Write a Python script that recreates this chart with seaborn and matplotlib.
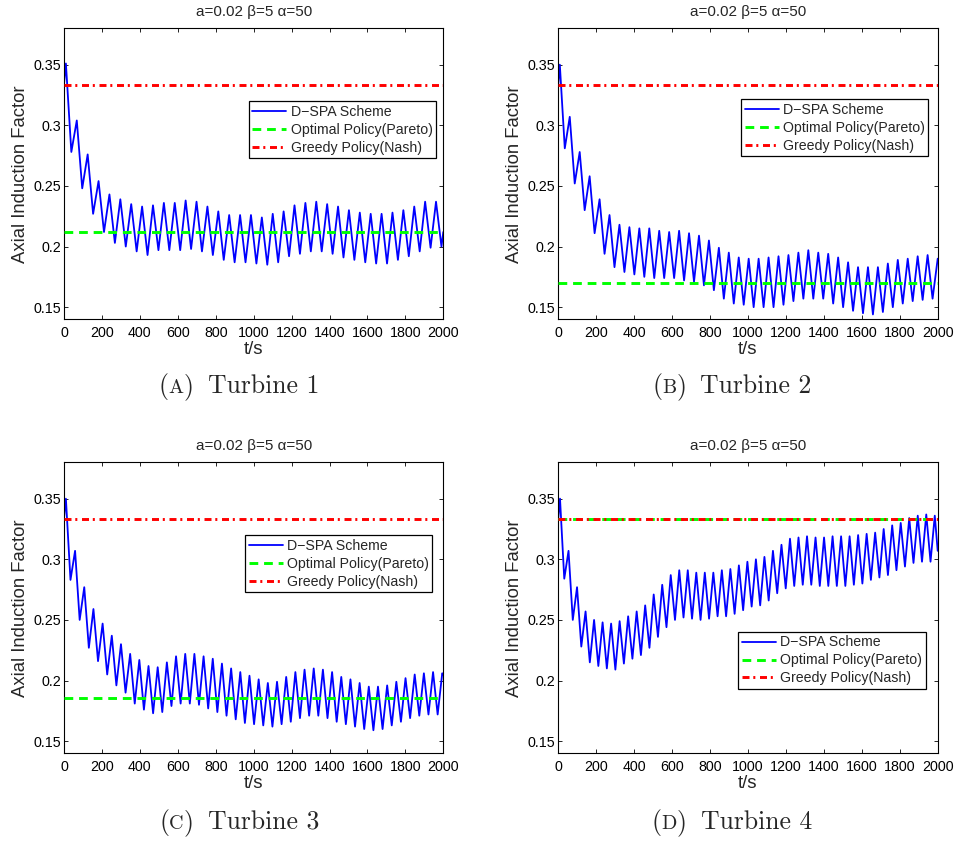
import numpy as np
import pandas as pd
import matplotlib
matplotlib.use("Agg")
import matplotlib.pyplot as plt
from matplotlib.transforms import IdentityTransform
import seaborn as sns

# ---------------- data ----------------
T_START = 0
T_END = 2000
START_VALUE = 0.334
NASH_VALUE = 0.3333

turbines = ["Turbine 1", "Turbine 2", "Turbine 3", "Turbine 4"]
caption_letters = ["A", "B", "C", "D"]
pareto_values = [0.212, 0.170, 0.186, 0.3333]
first_peak_times = [10, 8, 10, 9]
periods = [57.4, 52.4, 48.4, 44.9]
end_values = [0.212, 0.190, 0.205, 0.307]

peaks_1 = [0.351, 0.304, 0.276, 0.254, 0.243, 0.239, 0.235, 0.233, 0.234, 0.236,
           0.236, 0.238, 0.237, 0.233, 0.229, 0.226, 0.226, 0.226, 0.224, 0.227,
           0.229, 0.234, 0.236, 0.237, 0.235, 0.233, 0.230, 0.228, 0.227, 0.227,
           0.228, 0.230, 0.233, 0.237, 0.237]
troughs_1 = [0.278, 0.248, 0.227, 0.212, 0.203, 0.200, 0.196, 0.193, 0.197, 0.197,
             0.197, 0.198, 0.196, 0.193, 0.189, 0.187, 0.187, 0.186, 0.185, 0.187,
             0.192, 0.194, 0.196, 0.196, 0.194, 0.191, 0.189, 0.187, 0.186, 0.186,
             0.189, 0.192, 0.196, 0.199, 0.200]

peaks_2 = [0.350, 0.307, 0.278, 0.258, 0.239, 0.226, 0.218, 0.216, 0.215, 0.215,
           0.213, 0.212, 0.213, 0.211, 0.209, 0.205, 0.199, 0.195, 0.191, 0.190,
           0.190, 0.191, 0.192, 0.193, 0.195, 0.197, 0.195, 0.194, 0.191, 0.187,
           0.183, 0.183, 0.183, 0.186, 0.189, 0.190, 0.192, 0.193]
troughs_2 = [0.281, 0.252, 0.230, 0.211, 0.194, 0.183, 0.179, 0.177, 0.175, 0.174,
             0.174, 0.174, 0.172, 0.171, 0.168, 0.164, 0.157, 0.153, 0.152, 0.150,
             0.150, 0.150, 0.152, 0.155, 0.157, 0.157, 0.157, 0.153, 0.150, 0.147,
             0.145, 0.144, 0.146, 0.150, 0.153, 0.155, 0.156, 0.157]

peaks_3 = [0.350, 0.307, 0.277, 0.259, 0.247, 0.237, 0.230, 0.222, 0.217, 0.212,
           0.211, 0.215, 0.220, 0.222, 0.222, 0.220, 0.218, 0.214, 0.210, 0.207,
           0.204, 0.201, 0.198, 0.199, 0.203, 0.207, 0.209, 0.210, 0.209, 0.207,
           0.203, 0.201, 0.198, 0.195, 0.195, 0.196, 0.199, 0.202, 0.205, 0.206,
           0.207, 0.206]
troughs_3 = [0.283, 0.250, 0.227, 0.216, 0.205, 0.196, 0.190, 0.181, 0.176, 0.173,
             0.174, 0.179, 0.181, 0.181, 0.180, 0.177, 0.174, 0.171, 0.168, 0.165,
             0.164, 0.163, 0.162, 0.164, 0.166, 0.169, 0.171, 0.171, 0.169, 0.166,
             0.164, 0.162, 0.160, 0.159, 0.160, 0.163, 0.166, 0.169, 0.171, 0.172,
             0.172]

peaks_4 = [0.350, 0.307, 0.277, 0.257, 0.250, 0.248, 0.247, 0.249, 0.253, 0.257,
           0.262, 0.271, 0.279, 0.287, 0.291, 0.291, 0.289, 0.289, 0.289, 0.291,
           0.292, 0.295, 0.298, 0.300, 0.302, 0.307, 0.312, 0.317, 0.318, 0.319,
           0.318, 0.318, 0.319, 0.319, 0.319, 0.320, 0.321, 0.322, 0.325, 0.328,
           0.330, 0.334, 0.336, 0.337, 0.336]
troughs_4 = [0.284, 0.250, 0.228, 0.215, 0.212, 0.210, 0.209, 0.214, 0.218, 0.221,
             0.227, 0.236, 0.244, 0.250, 0.252, 0.251, 0.250, 0.251, 0.253, 0.253,
             0.255, 0.258, 0.261, 0.262, 0.266, 0.272, 0.276, 0.278, 0.279, 0.279,
             0.278, 0.278, 0.278, 0.278, 0.279, 0.280, 0.283, 0.285, 0.287, 0.291,
             0.294, 0.297, 0.298, 0.298]

all_peaks = [peaks_1, peaks_2, peaks_3, peaks_4]
all_troughs = [troughs_1, troughs_2, troughs_3, troughs_4]

x_ticks = [0, 200, 400, 600, 800, 1000, 1200, 1400, 1600, 1800, 2000]
x_tick_labels = [str(v) for v in x_ticks]
y_ticks = [0.15, 0.2, 0.25, 0.3, 0.35]
y_tick_labels = ["0.15", "0.2", "0.25", "0.3", "0.35"]
y_limits = (0.14, 0.38)
title_text = "a=0.02 \u03b2=5 \u03b1=50"
legend_labels = ["D\u2212SPA Scheme", "Optimal Policy(Pareto)", "Greedy Policy(Nash)"]


def build_series(first, period, peaks, troughs, end_value):
    ext = []
    for i, p in enumerate(peaks):
        ext.append(p)
        if i < len(troughs):
            ext.append(troughs[i])
    times = [first + k * period / 2.0 for k in range(len(ext))]
    return pd.DataFrame({"t": [T_START] + times + [T_END],
                         "a": [START_VALUE] + ext + [end_value]})


# ---------------- style ----------------
sns.set_style("ticks")
plt.rcParams["font.family"] = ["Liberation Sans", "DejaVu Sans"]
plt.rcParams["axes.linewidth"] = 0.8
plt.rcParams["axes.edgecolor"] = "black"

W, H = 955, 841
fig = plt.figure(figsize=(W / 100, H / 100), dpi=100)

# axes boxes in pixels (left, top, right, bottom)
boxes = [(64, 28.3, 443.3, 319.3), (558.3, 28.3, 937.7, 319.3),
         (64, 462.3, 443.3, 753.3), (558.3, 462.3, 937.7, 753.3)]
legend_anchor = [(0.981, 0.750), (0.975, 0.756), (0.971, 0.750), (0.968, 0.417)]
caption_pos = [(239, 393), (732, 393), (239, 829), (732, 829)]

BLUE = "#0000FF"
GREEN = "#00FF00"
RED = "#FF0000"

for i in range(4):
    l, t, r, b = boxes[i]
    ax = fig.add_axes([l / W, 1 - b / H, (r - l) / W, (b - t) / H])
    df = build_series(first_peak_times[i], periods[i], all_peaks[i],
                      all_troughs[i], end_values[i])
    sns.lineplot(data=df, x="t", y="a", ax=ax, color=BLUE, lw=1.3,
                 estimator=None, sort=False, zorder=2)
    h1 = ax.lines[-1]
    h2 = ax.axhline(pareto_values[i], color=GREEN, lw=2.1,
                    linestyle=(0, (3.0, 2.0)), zorder=3)
    h3 = ax.axhline(NASH_VALUE, color=RED, lw=2.1,
                    linestyle=(0, (2.4, 1.3, 0.7, 1.6)), zorder=4)

    ax.set_xlim(T_START, T_END)
    ax.set_ylim(*y_limits)
    ax.set_xticks(x_ticks)
    ax.set_xticklabels(x_tick_labels)
    ax.set_yticks(y_ticks)
    ax.set_yticklabels(y_tick_labels)
    ax.tick_params(direction="in", length=3, width=0.6, top=True, right=True,
                   labelsize=10.3, colors="black")
    ax.tick_params(axis="x", pad=5.0)
    ax.tick_params(axis="y", pad=2.2)
    for s in ax.spines.values():
        s.set_visible(True)
        s.set_linewidth(0.8)

    ax.set_xlabel("t/s", fontsize=13.3)
    ax.set_ylabel("Axial Induction Factor", fontsize=13.3)
    ax.xaxis.set_label_coords(0.5, -0.075)
    ax.yaxis.set_label_coords(-0.093, 0.5)
    ax.set_title(title_text, fontsize=11, pad=8.9)

    leg = ax.legend([h1, h2, h3], legend_labels, loc="upper right",
                    bbox_to_anchor=legend_anchor[i], fontsize=10.2,
                    frameon=True, fancybox=False, framealpha=1,
                    edgecolor="black", handlelength=2.4, handletextpad=0.3,
                    borderpad=0.25, labelspacing=0.28, borderaxespad=0)
    leg.get_frame().set_linewidth(0.9)
    leg.set_zorder(10)

# ---------------- captions ----------------
renderer = fig.canvas.get_renderer()
CAP_FS = 18.5


def place_caption(cx, y_top, letter, label):
    y = H - y_top
    pieces = [("(", CAP_FS, 0), (letter, CAP_FS * 0.78, 0),
              (")", CAP_FS, 14), (label, CAP_FS, 0)]
    objs, widths = [], []
    for s, fs, gap in pieces:
        txt = fig.text(0, y, s, fontsize=fs, family=["cmr10", "DejaVu Serif"],
                       va="baseline", ha="left", transform=IdentityTransform())
        objs.append((txt, gap))
        widths.append(txt.get_window_extent(renderer).width)
    total = sum(widths) + sum(g for _, g in objs)
    x = cx - total / 2
    for (txt, gap), w in zip(objs, widths):
        txt.set_x(x)
        x += w + gap


for i in range(4):
    cx, cy = caption_pos[i]
    place_caption(cx, cy, caption_letters[i], turbines[i])

fig.savefig("out.png", dpi=100)
